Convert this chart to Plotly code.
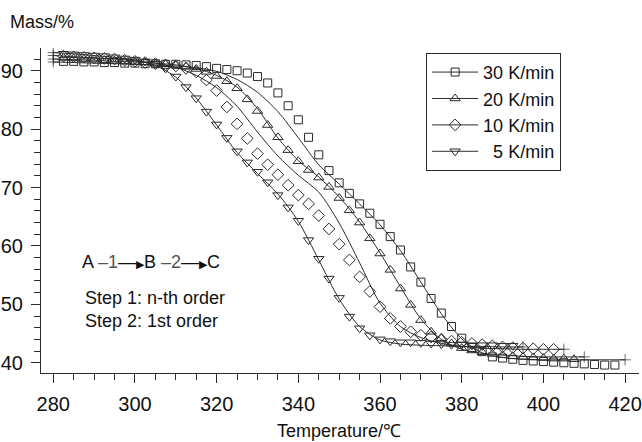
import plotly.graph_objects as go

# ---------------- data ----------------
T_exp = [282.5, 285, 287.5, 290, 292.5, 295, 297.5, 300, 302.5, 305, 307.5, 310,
         312.5, 315, 317.5, 320, 322.5, 325, 327.5, 330, 332.5, 335, 337.5, 340,
         342.5, 345, 347.5, 350, 352.5, 355, 357.5, 360, 362.5, 365, 367.5, 370,
         372.5, 375, 377.5, 380, 382.5, 385, 387.5, 390, 392.5, 395, 397.5, 400,
         402.5, 405, 407.5, 410, 412.5, 415, 417.5]

mass_30 = [91.6, 91.6, 91.5, 91.5, 91.4, 91.4, 91.3, 91.3, 91.2, 91.2, 91.1, 91.1,
           91.0, 90.9, 90.7, 90.4, 90.2, 90.0, 89.6, 89.0, 87.9, 86.2, 84.0, 81.6,
           78.6, 75.6, 72.9, 70.8, 69.0, 67.2, 65.6, 63.7, 61.6, 59.3, 56.4, 53.8,
           51.0, 48.5, 46.2, 44.2, 42.6, 41.9, 41.0, 40.8, 40.6, 40.4, 40.3, 40.2,
           40.1, 40.0, 39.9, 39.8, 39.7, 39.6, 39.6]
mass_20 = [92.2, 92.1, 92.0, 91.9, 91.8, 91.7, 91.6, 91.5, 91.4, 91.2, 91.1, 90.9,
           90.7, 90.3, 89.8, 89.1, 88.2, 87.0, 85.1, 83.1, 80.7, 78.6, 76.4, 74.5,
           73.0, 71.7, 70.1, 68.2, 66.1, 64.0, 61.3, 58.7, 55.9, 52.7, 49.9, 47.3,
           45.3, 44.2, 43.3, 42.5, 42.1, 41.8, 41.5, 41.3, 41.1, 41.0, 40.9, 40.8,
           40.7, 40.7, 40.6]
mass_10 = [92.5, 92.4, 92.3, 92.2, 92.1, 92.0, 91.8, 91.6, 91.4, 91.2, 91.0, 90.8,
           90.4, 89.8, 88.4, 86.6, 83.8, 80.9, 78.4, 75.8, 73.9, 72.2, 70.4, 68.7,
           67.2, 65.2, 62.9, 60.3, 57.6, 54.7, 52.2, 49.6, 47.6, 46.2, 45.3, 44.7,
           44.4, 44.0, 43.7, 43.5, 43.3, 43.1, 42.9, 42.7, 42.6, 42.5, 42.4, 42.3,
           42.3]
mass_5 = [92.9, 92.8, 92.7, 92.6, 92.5, 92.3, 92.1, 91.9, 91.6, 91.2, 90.4, 89.0,
          87.2, 85.3, 83.0, 80.8, 78.5, 76.2, 74.3, 72.7, 70.9, 68.7, 66.6, 64.3,
          61.0, 57.8, 54.4, 51.1, 47.9, 45.9, 44.7, 44.0, 43.7, 43.5, 43.5, 43.4,
          43.3, 43.2, 43.1, 43.1, 43.0, 43.0, 43.0, 42.9, 42.9]

T_fit = [280, 285, 290, 295, 300, 305, 310, 315, 320, 325, 330, 335, 340, 345, 350,
         355, 360, 365, 370, 375, 380, 385, 390, 395, 400, 405, 410, 415, 420]
fit_30 = [91.5, 91.4, 91.3, 91.2, 91.1, 91.0, 90.8, 90.5, 89.9, 88.5, 86.3, 83.0,
          78.5, 73.9, 70.6, 67.2, 63.6, 59.2, 53.8, 48.4, 44.1, 41.7, 40.9, 40.6,
          40.5, 40.5, 40.5, 40.5, 40.5]
fit_20 = [92.0, 91.9, 91.8, 91.6, 91.5, 91.3, 91.0, 90.4, 89.2, 87.2, 83.5, 78.5,
          74.6, 71.8, 68.4, 64.1, 58.8, 53.0, 47.5, 44.0, 42.3, 41.6, 41.3, 41.1,
          41.0, 41.0, 41.0]
fit_10 = [92.6, 92.4, 92.2, 92.0, 91.7, 91.3, 90.6, 89.2, 87.1, 83.9, 79.5, 75.4,
          72.1, 69.2, 63.9, 57.1, 50.2, 46.2, 44.3, 43.3, 42.8, 42.5, 42.4, 42.3,
          42.3, 42.3]
fit_5 = [93.1, 92.9, 92.6, 92.3, 91.8, 90.9, 88.9, 85.3, 80.7, 76.0, 72.4, 68.9,
         64.2, 57.6, 50.9, 46.2, 43.9, 43.2, 43.0, 42.9, 42.8, 42.8, 42.7, 42.7]

series_names = ["30 K/min", "20 K/min", "10 K/min", "\u20075 K/min"]
series_exp = [mass_30, mass_20, mass_10, mass_5]
series_fit = [fit_30, fit_20, fit_10, fit_5]
symbols = ["square-open", "triangle-up-open", "diamond-open", "triangle-down-open"]
sizes = [8, 9, 9, 9]

x_ticks = [280, 300, 320, 340, 360, 380, 400, 420]
y_ticks = [40, 50, 60, 70, 80, 90]

INK = "#2b2b2b"
FONT = "Arial, Liberation Sans, sans-serif"

fig = go.Figure()

# legend entries
for name, sym, sz in zip(series_names, symbols, sizes):
    fig.add_trace(go.Scatter(
        x=[None], y=[None], mode="lines+markers", name=name,
        line=dict(color=INK, width=1),
        marker=dict(symbol=sym, size=sz, color=INK, line=dict(color=INK, width=1)),
        showlegend=True))

# fitted curves (with + at both ends)
for fit in series_fit:
    n = len(fit)
    xs = T_fit[:n]
    msizes = [8] + [0] * (n - 2) + [8]
    fig.add_trace(go.Scatter(
        x=xs, y=fit, mode="lines+markers", showlegend=False,
        line=dict(color=INK, width=1, shape="spline", smoothing=0.8),
        marker=dict(symbol="cross-thin-open", size=msizes,
                    line=dict(color=INK, width=1), color=INK),
        hoverinfo="skip"))

# experimental points
for vals, sym, sz in zip(series_exp, symbols, sizes):
    fig.add_trace(go.Scatter(
        x=T_exp[:len(vals)], y=vals, mode="markers", showlegend=False,
        marker=dict(symbol=sym, size=sz, color=INK, line=dict(color=INK, width=1))))

axis_common = dict(
    showline=True, linecolor=INK, linewidth=1, showgrid=False, zeroline=False,
    ticks="outside", tickcolor=INK, tickwidth=1, ticklen=9,
    tickfont=dict(family=FONT, size=20, color="#111"),
    ticklabelstandoff=4, ticklabeloverflow="allow",
    minor=dict(ticks="outside", ticklen=6, tickcolor=INK, tickwidth=1, showgrid=False),
)

fig.update_xaxes(range=[277.0, 423.4], tickvals=x_ticks, **axis_common)
fig.update_xaxes(minor_dtick=5, minor_tick0=280)
fig.update_yaxes(range=[38.24, 93.89], tickvals=y_ticks, **axis_common)
fig.update_yaxes(minor_dtick=2, minor_tick0=40)

annots = [
    dict(text="Mass/%", xref="paper", yref="paper", x=-0.055, y=1.08,
         xanchor="left", yanchor="middle", showarrow=False,
         font=dict(family=FONT, size=18, color="#111")),
    dict(text="Temperature/\u2103", xref="paper", yref="paper", x=0.4975, y=-0.178,
         xanchor="center", yanchor="middle", showarrow=False,
         font=dict(family=FONT, size=18, color="#111")),
    dict(text="A <span style='color:#555'>\u20131</span>\u2014<span style='font-size:11px'>\u25B6</span>B <span style='color:#555'>\u20132</span>\u2014<span style='font-size:11px'>\u25B6</span>C",
         xref="x", yref="y", x=286.5, y=57.2, xanchor="left", yanchor="middle",
         showarrow=False, font=dict(family=FONT, size=18, color="#111")),
    dict(text="Step 1: n-th order", xref="x", yref="y", x=287.3, y=51.0,
         xanchor="left", yanchor="middle", showarrow=False,
         font=dict(family=FONT, size=18, color="#111")),
    dict(text="Step 2: 1st order", xref="x", yref="y", x=287.3, y=47.1,
         xanchor="left", yanchor="middle", showarrow=False,
         font=dict(family=FONT, size=18, color="#111")),
]

fig.update_layout(
    width=642, height=442,
    margin=dict(l=41, r=0, t=48, b=69),
    paper_bgcolor="white", plot_bgcolor="white",
    font=dict(family=FONT, color="#111"),
    annotations=annots,
    legend=dict(x=0.644, y=0.985, xanchor="left", yanchor="top",
                bgcolor="white", bordercolor=INK, borderwidth=1,
                font=dict(family=FONT, size=18, color="#111"),
                itemwidth=46, tracegroupgap=0),
)

fig.write_html("out.html", config={"displayModeBar": False},
               post_script="document.body.style.margin='0px';")
